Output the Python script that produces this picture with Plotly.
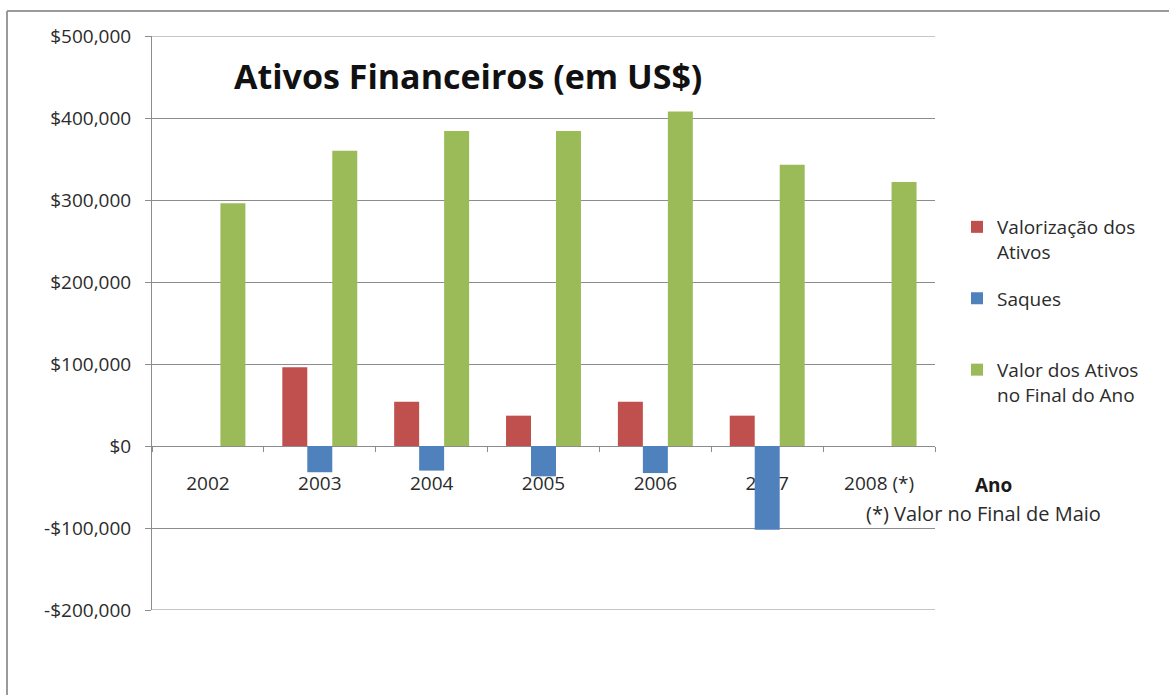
import plotly.graph_objects as go

anos = ["2002", "2003", "2004", "2005", "2006", "2007", "2008 (*)"]
valorizacao = [None, 96000, 54000, 37000, 54000, 37000, None]
saques = [None, -32000, -30000, -37000, -33000, -102000, None]
valor_final = [296000, 360000, 384000, 384000, 408000, 343000, 322000]

y_ticks = [-200000, -100000, 0, 100000, 200000, 300000, 400000, 500000]
y_ticktext = ["-$200,000", "-$100,000", "$0", "$100,000", "$200,000",
              "$300,000", "$400,000", "$500,000"]

nomes = ["Valorização dos<br>Ativos", "Saques<br>\u00a0", "Valor dos Ativos<br>no Final do Ano"]
cores = ["#C0504D", "#4F81BD", "#9BBB59"]
series = [valorizacao, saques, valor_final]

W, H = 1169, 695
L, R, T, B = 152, 935, 36, 610  # plot area in pixels
def px(x):
    return (x - L) / (R - L)
def py(y):
    return (B - y) / (B - T)

FONT = "'Open Sans', Lato, sans-serif"
TXT = "#2b2b2b"
GRID = "#8c8c8c"
fig = go.Figure()
for nome, cor, vals in zip(nomes, cores, series):
    fig.add_trace(go.Bar(x=anos, y=vals, name=nome, marker_color=cor,
                         marker_line_width=0, legendgroup=nome))

fig.update_layout(
    width=W, height=H,
    margin=dict(l=L, r=W - R, t=T, b=H - B, autoexpand=False),
    paper_bgcolor="white", plot_bgcolor="white",
    barmode="group", bargap=0.33, bargroupgap=0,
    font=dict(family=FONT, size=18, color=TXT),
    xaxis=dict(type="category", anchor="free", position=200000 / 700000,
               showline=True, linecolor=GRID, linewidth=1,
               ticks="outside", tickson="boundaries", ticklen=5, tickcolor=GRID,
               showgrid=False, tickfont=dict(size=19, color=TXT),
               ticklabelstandoff=20, layer="below traces",
               range=[-0.5, 6.5]),
    yaxis=dict(range=[y_ticks[0], y_ticks[-1]], tickvals=y_ticks, ticktext=y_ticktext,
               showgrid=True, gridcolor=GRID, gridwidth=1, zeroline=False,
               showline=True, linecolor=GRID, ticks="outside", ticklen=6,
               tickcolor=GRID, ticklabelstandoff=10,
               tickfont=dict(size=19, color=TXT)),
    legend=dict(x=px(957), y=py(208), xanchor="left", yanchor="top",
                font=dict(size=19, color=TXT), tracegroupgap=19,
                bgcolor="rgba(0,0,0,0)", itemwidth=30, valign="top"),
    showlegend=True,
)

# top and bottom gridlines (at the ends of the value axis)
for yv in (y_ticks[0], y_ticks[-1]):
    fig.add_shape(type="line", xref="paper", yref="y", x0=0, x1=1, y0=yv, y1=yv,
                  line=dict(color=GRID, width=1), layer="below")

fig.add_annotation(text="<b>Ativos Financeiros (em US$)</b>", xref="paper", yref="paper",
                   x=px(232), y=py(76), xanchor="left", yanchor="middle", showarrow=False,
                   font=dict(size=34, color="#111111", family=FONT))
fig.add_annotation(text="<b>Ano</b>", xref="paper", yref="paper",
                   x=px(973), y=py(485), xanchor="left", yanchor="middle", showarrow=False,
                   font=dict(size=19, color="#1a1a1a", family=FONT))
fig.add_annotation(text="(*) Valor no Final de Maio", xref="paper", yref="paper",
                   x=px(864), y=py(513), xanchor="left", yanchor="middle", showarrow=False,
                   font=dict(size=20, color=TXT, family=FONT))

# outer chart border (top and left edges visible)
fig.add_shape(type="line", xref="paper", yref="paper", x0=px(7), x1=px(1175), y0=py(11), y1=py(11),
              line=dict(color="#9a9a9a", width=2))
fig.add_shape(type="line", xref="paper", yref="paper", x0=px(7), x1=px(7), y0=py(11), y1=py(700),
              line=dict(color="#9a9a9a", width=2))

fig.write_html("out.html")
